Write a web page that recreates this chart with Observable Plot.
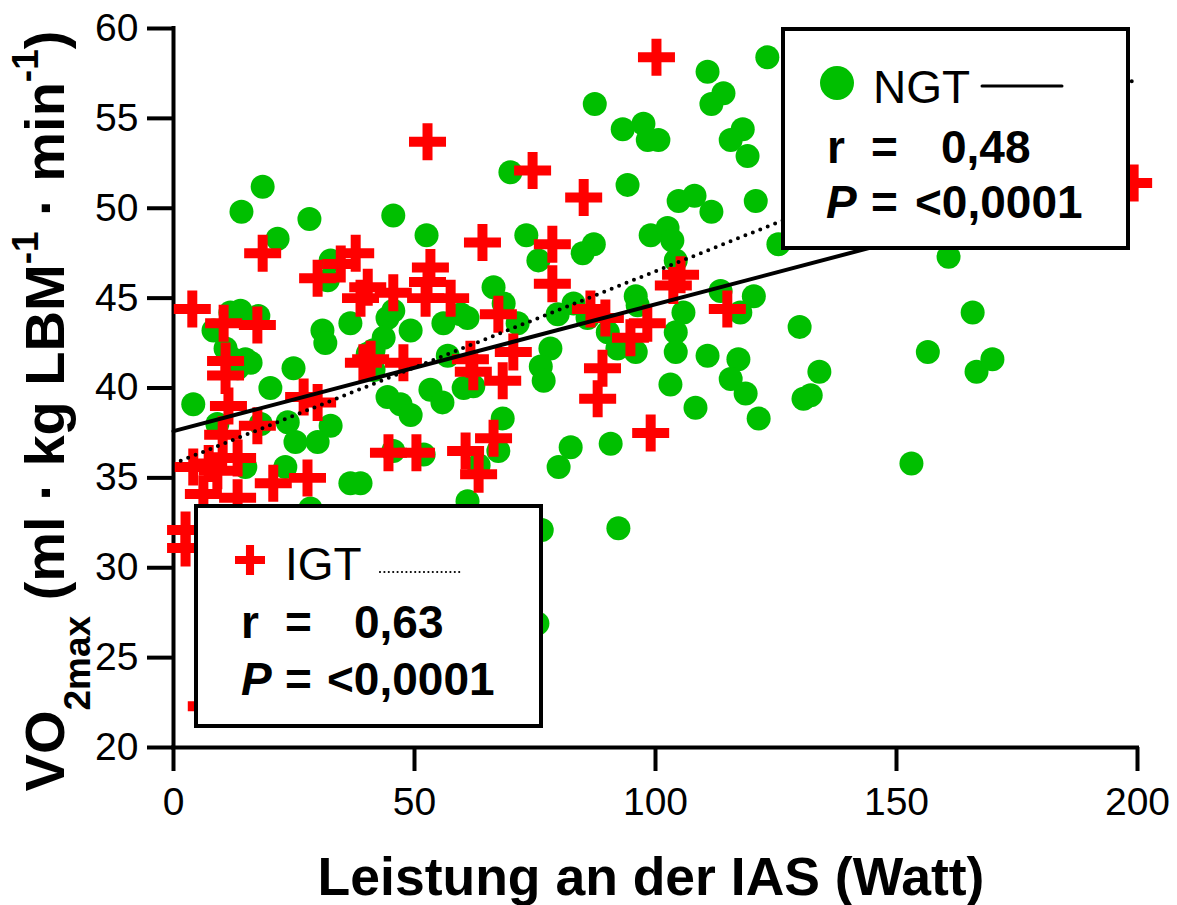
<!DOCTYPE html>
<html><head><meta charset="utf-8">
<script src="https://cdn.jsdelivr.net/npm/d3@7"></script>
<script src="https://cdn.jsdelivr.net/npm/@observablehq/plot@0.6"></script>
<style>html,body{margin:0;padding:0;background:#fff}</style>
</head><body><div id="chart"></div>
<script>
// NGT (green circles)
const ngtX = [18.5,14.1,28.2,21.6,32.6,32.0,11.8,13.9,17.6,8.3,10.8,11.8,14.9,24.9,30.9,31.5,36.7,40.3,13.3,16.0,20.1,4.1,9.1,18.1,23.7,32.6,29.9,25.3,14.9,23.2,36.7,28.4,
69.9,45.6,52.5,73.2,75.7,66.4,68.5,71.4,44.4,45.6,49.2,43.6,56.0,59.6,61.0,41.5,56.9,79.7,78.2,76.2,
41.5,44.4,47.1,49.2,53.3,55.8,60.2,62.2,76.8,68.3,67.4,45.6,51.9,63.3,61.0,38.8,76.4,
123.2,110.8,114.1,111.6,87.4,93.2,97.5,98.4,100.6,118.1,115.6,119.1,94.2,104.8,108.1,111.6,120.8,99.0,102.5,103.5,104.2,87.2,84.9,125.5,
83.0,85.9,90.1,92.1,95.9,95.9,96.3,105.8,104.2,104.2,113.5,120.4,117.6,110.8,117.2,115.6,118.7,103.1,108.3,121.4,82.4,79.9,90.7,92.3,
160.8,129.9,165.8,156.5,134.0,132.2,130.7,166.6,169.9,153.1,75.5];
const ngtY = [51.2,49.8,49.4,48.3,47.1,46.0,44.2,44.3,44.0,43.2,42.2,41.7,41.6,41.1,43.2,42.5,43.6,41.9,41.1,41.4,40.0,39.1,38.0,38.0,38.1,37.9,37.0,37.0,35.6,35.6,34.7,33.3,
52.0,49.6,48.5,48.5,47.1,45.6,44.7,43.6,43.9,44.3,43.2,42.8,43.6,44.1,43.9,42.1,41.8,44.1,42.2,41.2,
41.0,39.5,39.1,38.5,39.9,39.2,40.0,40.1,40.4,38.3,36.5,36.5,36.3,35.7,33.7,34.7,32.1,
58.4,57.6,56.4,55.8,55.8,54.4,54.7,53.8,53.8,54.4,53.8,52.9,51.3,50.4,50.7,49.8,50.4,48.5,48.9,48.2,47.1,48.0,47.5,48.0,
44.7,43.9,43.1,42.2,42.0,45.1,44.6,44.2,43.1,42.0,45.4,45.1,44.2,41.8,41.6,40.5,39.7,40.2,38.9,38.3,36.7,35.6,36.9,32.2,
47.3,43.4,44.2,42.0,40.9,39.6,39.4,40.9,41.6,35.8,26.9];
// IGT (red crosses)
const igtX = [18.5,29.9,34.7,37.8,40.3,38.8,3.9,10.4,17.4,10.8,39.4,52.7,74.5,85.1,100.2,199.2,64.1,78.6,78.6,45.6,
53.3,52.7,57.5,52.3,67.4,40.9,47.7,61.6,70.5,62.2,68.3,44.6,50.4,60.6,66.4,63.3,105.2,103.7,86.5,89.6,
94.8,98.3,114.9,89.0,88.0,99.0,10.8,11.4,27.0,29.9,17.4,10.2,13.3,4.1,7.3,9.1,20.7,27.8,6.2,13.3,2.5,2.5,6.8];
const igtY = [47.5,46.1,46.9,47.5,45.6,45.0,44.4,43.6,43.5,41.5,41.4,53.7,52.1,50.6,58.4,51.4,48.1,48.0,45.8,45.3,
46.7,45.9,45.0,45.0,44.1,41.6,41.4,41.6,42.0,40.9,40.4,36.4,36.4,36.5,37.2,35.2,46.3,45.7,44.4,43.9,
42.8,43.6,44.4,41.1,39.4,37.5,40.7,39.0,39.5,39.2,37.9,37.4,36.1,35.6,35.8,35.4,34.7,35.0,34.1,33.9,32.1,31.1,22.3];
// regression lines (end points)
const ngtFitX = [0, 170];
const ngtFitY = [37.6, 49.6];
const igtFitX = [1.5, 200];
const igtFitY = [35.95, 57.2];
// ticks
const xTicks = [0, 50, 100, 150, 200];
const yTicks = [20, 25, 30, 35, 40, 45, 50, 55, 60];

const ngt = ngtX.map((x, i) => ({x, y: ngtY[i]}));
const igt = igtX.map((x, i) => ({x, y: igtY[i]}));
const ngtFit = ngtFitX.map((x, i) => ({x, y: ngtFitY[i]}));
const igtFit = igtFitX.map((x, i) => ({x, y: igtFitY[i]}));

const GREEN = "#00bf00", RED = "#ff0000";
const FONT = "'Liberation Sans', Arial, sans-serif";

const plusSymbol = {
  draw(ctx, size) {
    const L = Math.sqrt(size / Math.PI), t = L * 0.27;
    ctx.moveTo(-t, -L); ctx.lineTo(t, -L); ctx.lineTo(t, -t); ctx.lineTo(L, -t);
    ctx.lineTo(L, t); ctx.lineTo(t, t); ctx.lineTo(t, L); ctx.lineTo(-t, L);
    ctx.lineTo(-t, t); ctx.lineTo(-L, t); ctx.lineTo(-L, -t); ctx.lineTo(-t, -t);
    ctx.closePath();
  }
};

const chart = Plot.plot({
  width: 1177, height: 905,
  marginLeft: 173, marginRight: 40, marginTop: 28, marginBottom: 158,
  style: {fontFamily: FONT, background: "white", color: "black", overflow: "visible"},
  x: {domain: [0, 200]},
  y: {domain: [20, 60]},
  marks: [
    Plot.axisX({ticks: xTicks, tickSize: 24, tickPadding: 16, fontSize: 39, strokeWidth: 4, stroke: "black", label: null}),
    Plot.axisY({ticks: yTicks, tickSize: 26, tickPadding: 9, fontSize: 39, strokeWidth: 4, stroke: "black", label: null}),
    Plot.ruleX([0], {y1: 20, y2: 60, strokeWidth: 4, strokeLinecap: "square"}),
    Plot.ruleY([20], {x1: 0, x2: 200, strokeWidth: 4, strokeLinecap: "square"}),
    Plot.dot(ngt, {x: "x", y: "y", r: 12, fill: GREEN, stroke: null}),
    Plot.dot(igt, {x: "x", y: "y", r: 18.5, symbol: plusSymbol, fill: RED, stroke: null}),
    Plot.line(ngtFit, {x: "x", y: "y", stroke: "black", strokeWidth: 4}),
    Plot.line(igtFit, {x: "x", y: "y", stroke: "black", strokeWidth: 4, strokeDasharray: "0 8", strokeLinecap: "round"})
  ]
});
document.getElementById("chart").append(chart);

const svg = d3.select(chart);

// Axis titles
svg.append("text")
  .attr("x", 651).attr("y", 895)
  .attr("text-anchor", "middle")
  .style("font", `bold 53.5px ${FONT}`)
  .attr("fill", "black")
  .text("Leistung an der IAS (Watt)");

const yl = svg.append("text")
  .attr("transform", "translate(64,411) rotate(-90)")
  .attr("text-anchor", "middle")
  .style("font", `bold 56px ${FONT}`)
  .attr("fill", "black");
yl.append("tspan").text("VO");
yl.append("tspan").attr("font-size", "37px").attr("dy", 26).text("2max");
yl.append("tspan").attr("dy", -26).text(" (ml · kg LBM");
yl.append("tspan").attr("font-size", "37px").attr("dy", -26).text("-1");
yl.append("tspan").attr("dy", 26).text(" · min");
yl.append("tspan").attr("font-size", "37px").attr("dy", -26).text("-1");
yl.append("tspan").attr("dy", 26).text(")");

// Legend boxes
function box(x, y, w, h) {
  svg.append("rect").attr("x", x).attr("y", y).attr("width", w).attr("height", h)
    .attr("fill", "white").attr("stroke", "black").attr("stroke-width", 4);
}
function txt(x, y, s, opts = {}) {
  return svg.append("text").attr("x", x).attr("y", y)
    .attr("text-anchor", "start")
    .style("font", `${opts.italic ? "italic " : ""}${opts.bold ? "bold " : ""}${opts.size || 46}px ${FONT}`)
    .attr("fill", "black").text(s);
}

// NGT
box(783, 29, 345, 219);
svg.append("circle").attr("cx", 837).attr("cy", 83).attr("r", 17).attr("fill", GREEN);
txt(873, 103, "NGT");
svg.append("line").attr("x1", 982).attr("x2", 1062).attr("y1", 86).attr("y2", 86)
  .attr("stroke", "black").attr("stroke-width", 3).attr("stroke-linecap", "round");
txt(827, 163, "r", {bold: true});
txt(871, 163, "=", {bold: true});
txt(941, 163, "0,48", {bold: true});
txt(826, 218, "P", {bold: true, italic: true});
txt(871, 218, "=", {bold: true});
txt(915, 218, "<0,0001", {bold: true});

// IGT
box(196, 506, 345, 220);
svg.append("path").attr("transform", "translate(250,560)")
  .attr("d", d3.symbol(plusSymbol, Math.PI * 15 * 15)()).attr("fill", RED);
txt(285, 580, "IGT");
svg.append("line").attr("x1", 380).attr("x2", 460).attr("y1", 572).attr("y2", 572)
  .attr("stroke", "black").attr("stroke-width", 2.2).attr("stroke-dasharray", "0 4.4").attr("stroke-linecap", "round");
txt(241, 638, "r", {bold: true});
txt(285, 638, "=", {bold: true});
txt(354, 638, "0,63", {bold: true});
txt(241, 695, "P", {bold: true, italic: true});
txt(285, 695, "=", {bold: true});
txt(327, 695, "<0,0001", {bold: true});
</script></body></html>
